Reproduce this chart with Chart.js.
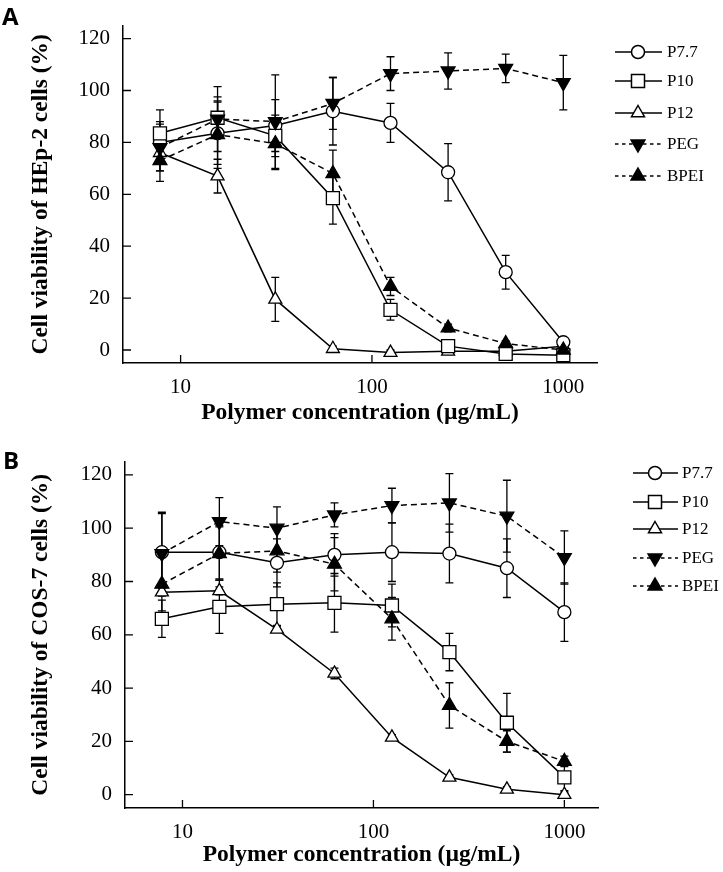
<!DOCTYPE html>
<html>
<head>
<meta charset="utf-8">
<script src="https://cdn.jsdelivr.net/npm/chart.js@4/dist/chart.umd.min.js"></script>
<style>
html, body { margin: 0; padding: 0; background: #fff; }
#wrap { position: relative; width: 723px; height: 872px; }
canvas { position: absolute; left: 0; }
#cA { top: 0; }
#cB { top: 436px; }
.tag { position: absolute; font-family: "Open Sans"; font-weight: bold; font-size: 24px; line-height: 1; }
</style>
</head>
<body>
<div id="wrap">
  <canvas id="cA" width="723" height="436"></canvas>
  <canvas id="cB" width="723" height="436"></canvas>
  <div class="tag" style="left:2px;top:4px">A</div>
  <div class="tag" style="left:3px;top:448px">B</div>
</div>
<script>
// concentrations (µg/mL) and series names
var conc = [7.8, 15.6, 31.25, 62.5, 125, 250, 500, 1000];
var names = ["P7.7", "P10", "P12", "PEG", "BPEI"];
var xTickVals = [10, 100, 1000];
var yTickVals = [0, 20, 40, 60, 80, 100, 120];

// A - HEp-2
var hepP77 = [80, 83.5, 86.5, 92, 87.5, 68.5, 30, 3];
var hepP10 = [83.5, 89.5, 82.5, 58.5, 15.5, 1.5, -1.5, -2];
var hepP12 = [76, 67, 19.5, 0.5, -1, -0.5, -0.5, 1.5];
var hepPEG = [78, 89, 88, 95, 106.5, 107.5, 108.5, 103];
var hepBPEI = [73, 83, 79.5, 68, 24.5, 8.5, 2.5, 0];
var hepP77Err = [8, 12, 10, 13, 7.5, 11, 6.5, 1];
var hepP10Err = [9, 8, 8, 10, 4, 2, 1.5, 1];
var hepP12Err = [7, 6.5, 8.5, 1, 1, 1, 1, 1];
var hepPEGErr = [9, 12.5, 18, 10, 6.5, 7, 5.5, 10.5];
var hepBPEIErr = [8, 13, 10, 9, 3.5, 1.5, 1, 1];

// B - COS-7
var cosP77 = [91, 91, 87, 90, 91, 90.5, 85, 68.5];
var cosP10 = [66, 70.5, 71.5, 72, 71, 53.5, 27, 6.5];
var cosP12 = [76, 76.5, 62, 45.5, 21.5, 6.5, 2, 0];
var cosPEG = [90.5, 102.5, 100, 105, 108.5, 109.5, 104.5, 89];
var cosBPEI = [79, 90.5, 91.5, 86.5, 66, 33.5, 20, 12.5];
var cosP77Err = [15, 10, 9, 8, 11, 11, 11, 11];
var cosP10Err = [7, 10, 8, 11, 8, 7, 11, 5];
var cosP12Err = [1.5, 1.5, 1, 2, 1, 1, 1, 1];
var cosPEGErr = [15, 9, 8, 4.5, 6.5, 11, 13.5, 10];
var cosBPEIErr = [10, 10, 8, 10, 8, 8.5, 4, 2];

// marker / line look per series; order: lower = drawn on top
var styles = [
  {pointStyle: "circle", r: 6.5, fill: "#fff", dash: [], rot: 0, order: 3},
  {pointStyle: "rect", r: 9.2, fill: "#fff", dash: [], rot: 0, order: 2},
  {pointStyle: "triangle", r: 7.5, fill: "#fff", dash: [], rot: 0, order: 4},
  {pointStyle: "triangle", r: 8, fill: "#000", dash: [6, 4], rot: 180, order: 0},
  {pointStyle: "triangle", r: 8, fill: "#000", dash: [6, 4], rot: 0, order: 1}
];

var serif = '"Liberation Serif", "Times New Roman", serif';

// error bars, under the markers
var errorBars = {
  id: "errorBars",
  beforeDatasetsDraw: function(chart) {
    var ctx = chart.ctx, xs = chart.scales.x, ys = chart.scales.y;
    ctx.save();
    ctx.strokeStyle = "#000";
    ctx.lineWidth = 1.3;
    ctx.setLineDash([]);
    chart.data.datasets.forEach(function(ds) {
      ds.data.forEach(function(p, i) {
        var e = ds.errors[i];
        if (!e) return;
        var px = xs.getPixelForValue(p.x);
        var t = ys.getPixelForValue(p.y + e), b = ys.getPixelForValue(p.y - e);
        ctx.beginPath();
        ctx.moveTo(px, t); ctx.lineTo(px, b);
        ctx.moveTo(px - 4, t); ctx.lineTo(px + 4, t);
        ctx.moveTo(px - 4, b); ctx.lineTo(px + 4, b);
        ctx.stroke();
      });
    });
    ctx.restore();
  }
};

// tick marks pointing into the plot
var innerTicks = {
  id: "innerTicks",
  beforeDatasetsDraw: function(chart) {
    var ctx = chart.ctx, a = chart.chartArea, x = chart.scales.x, y = chart.scales.y;
    ctx.save();
    ctx.strokeStyle = "#000";
    ctx.lineWidth = 1.3;
    ctx.beginPath();
    y.ticks.forEach(function(t) {
      var py = y.getPixelForValue(t.value);
      ctx.moveTo(a.left, py); ctx.lineTo(a.left + 8, py);
    });
    x.ticks.forEach(function(t) {
      var px = x.getPixelForValue(t.value);
      ctx.moveTo(px, a.bottom); ctx.lineTo(px, a.bottom - 8);
    });
    ctx.stroke();
    ctx.restore();
  }
};

function marker(ctx, st, x, y) {
  ctx.beginPath();
  if (st.pointStyle == "circle") {
    ctx.arc(x, y, st.r, 0, Math.PI * 2);
  } else if (st.pointStyle == "rect") {
    var s = st.r * Math.SQRT1_2;
    ctx.rect(x - s, y - s, 2 * s, 2 * s);
  } else {
    var d = st.rot ? -1 : 1;
    ctx.moveTo(x, y - d * st.r);
    ctx.lineTo(x + st.r * 0.866, y + d * st.r * 0.5);
    ctx.lineTo(x - st.r * 0.866, y + d * st.r * 0.5);
    ctx.closePath();
  }
  ctx.fillStyle = st.fill;
  ctx.fill();
  ctx.setLineDash([]);
  ctx.stroke();
}

// legend on the right: line + marker + name
var sideLegend = {
  id: "sideLegend",
  afterDraw: function(chart, args, o) {
    var ctx = chart.ctx;
    ctx.save();
    ctx.strokeStyle = "#000";
    ctx.lineWidth = 1.5;
    ctx.font = "17px " + serif;
    ctx.textBaseline = "middle";
    names.forEach(function(n, i) {
      var st = styles[i], y = o.ys[i];
      ctx.setLineDash(st.dash.length ? [3.5, 3.5] : []);
      ctx.beginPath();
      ctx.moveTo(o.x0, y); ctx.lineTo(o.x1, y);
      ctx.stroke();
      marker(ctx, st, o.mx, y);
      ctx.fillStyle = "#000";
      ctx.fillText(n, o.tx, y + 1);
    });
    ctx.restore();
  }
};

function makeChart(id, yTitle, vals, errs, geo) {
  var datasets = names.map(function(n, i) {
    var st = styles[i];
    return {
      label: n,
      data: conc.map(function(c, j) { return {x: c, y: vals[i][j]}; }),
      errors: errs[i],
      order: st.order,
      borderColor: "#000",
      borderWidth: 1.5,
      borderDash: st.dash,
      backgroundColor: st.fill,
      pointStyle: st.pointStyle,
      pointRadius: st.r,
      pointRotation: st.rot,
      pointBackgroundColor: st.fill,
      pointBorderColor: "#000",
      pointBorderWidth: 1.3,
      tension: 0,
      clip: 12
    };
  });

  return new Chart(document.getElementById(id), {
    type: "line",
    data: {datasets: datasets},
    options: {
      responsive: false,
      animation: false,
      devicePixelRatio: 1,
      layout: {padding: {left: 0, top: geo.top, right: 723 - geo.right, bottom: 0}},
      plugins: {
        legend: {display: false},
        tooltip: {enabled: false},
        sideLegend: geo.legend
      },
      scales: {
        x: {
          type: "logarithmic",
          min: 5,
          max: 1500,
          afterBuildTicks: function(s) { s.ticks = xTickVals.map(function(v) { return {value: v}; }); },
          afterFit: function(s) { s.height = 436 - geo.bottom; },
          grid: {display: false, drawTicks: false},
          border: {display: true, color: "#000", width: 1.5},
          ticks: {
            color: "#000",
            font: {family: serif, size: 21},
            padding: 12,
            autoSkip: false,
            maxRotation: 0,
            callback: function(v) { return String(v); }
          },
          title: {
            display: true,
            text: "Polymer concentration (µg/mL)",
            color: "#000",
            font: {family: serif, size: 23.5, weight: "bold"},
            padding: {top: 0, bottom: geo.xTitlePad}
          }
        },
        y: {
          min: -5,
          max: 125,
          afterBuildTicks: function(s) { s.ticks = yTickVals.map(function(v) { return {value: v}; }); },
          afterFit: function(s) { s.width = geo.left; },
          grid: {display: false, drawTicks: false},
          border: {display: true, color: "#000", width: 1.5},
          ticks: {
            color: "#000",
            font: {family: serif, size: 21},
            padding: 13
          },
          title: {
            display: true,
            text: yTitle,
            color: "#000",
            font: {family: serif, size: 23.5, weight: "bold"},
            padding: {top: 27, bottom: 0}
          }
        }
      }
    },
    plugins: [errorBars, innerTicks, sideLegend]
  });
}

makeChart("cA", "Cell viability of HEp-2 cells (%)",
  [hepP77, hepP10, hepP12, hepPEG, hepBPEI],
  [hepP77Err, hepP10Err, hepP12Err, hepPEGErr, hepBPEIErr],
  {left: 123, right: 597, top: 17, bottom: 363, xTitlePad: 9,
   legend: {x0: 615, x1: 662, mx: 638, tx: 667, ys: [52, 81, 113, 144, 176]}});

makeChart("cB", "Cell viability of COS-7 cells (%)",
  [cosP77, cosP10, cosP12, cosPEG, cosBPEI],
  [cosP77Err, cosP10Err, cosP12Err, cosPEGErr, cosBPEIErr],
  {left: 125, right: 598, top: 25, bottom: 372, xTitlePad: 3,
   legend: {x0: 633, x1: 678, mx: 655, tx: 682, ys: [37, 66, 93, 122, 150]}});
</script>
</body>
</html>
